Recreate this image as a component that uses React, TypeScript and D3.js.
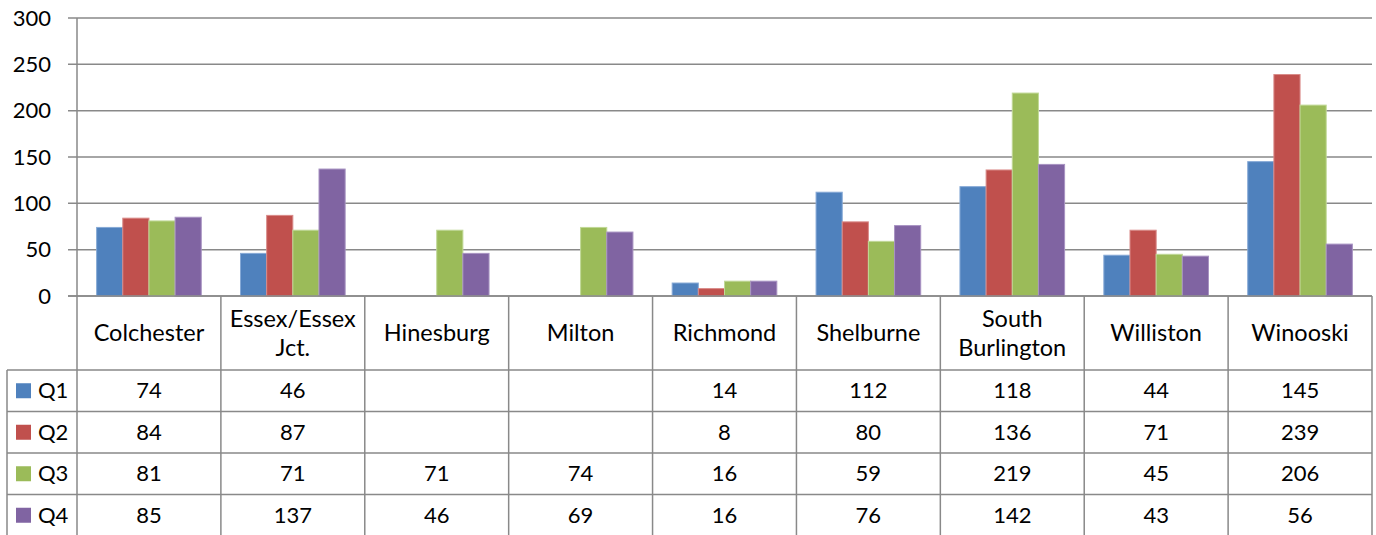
import React from "react";
import * as d3 from "d3";

const categories = ["Colchester", "Essex/Essex Jct.", "Hinesburg", "Milton", "Richmond", "Shelburne", "South Burlington", "Williston", "Winooski"];
const categoryLines = [["Colchester"], ["Essex/Essex", "Jct."], ["Hinesburg"], ["Milton"], ["Richmond"], ["Shelburne"], ["South", "Burlington"], ["Williston"], ["Winooski"]];
const seriesNames = ["Q1", "Q2", "Q3", "Q4"];
const q1: (number | null)[] = [74, 46, null, null, 14, 112, 118, 44, 145];
const q2: (number | null)[] = [84, 87, null, null, 8, 80, 136, 71, 239];
const q3: (number | null)[] = [81, 71, 71, 74, 16, 59, 219, 45, 206];
const q4: (number | null)[] = [85, 137, 46, 69, 16, 76, 142, 43, 56];
const seriesValues = [q1, q2, q3, q4];
const colors = ["#4F81BD", "#C0504D", "#9BBB59", "#8064A2"];
const strokes = ["#86a9d6", "#d98b89", "#c0d896", "#a893c2"];
const yTicks = [0, 50, 100, 150, 200, 250, 300];

const W = 1376;
const H = 535;
const plotLeft = 77;
const plotRight = 1372;
const plotTop = 18;
const plotBottom = 296;
const tableLeft = 7;
const catRowBottom = 370;
const rowH = 41.5;
const FONT = "Lato, 'Liberation Sans', sans-serif";
const grid = "#898989";

export default function App() {
  const x = d3.scaleBand<string>().domain(categories).range([plotLeft, plotRight]).paddingInner(0).paddingOuter(0);
  const xs = d3.scaleBand<string>().domain(seriesNames).range([0, x.bandwidth()]).paddingInner(0).paddingOuter(0.75);
  const y = d3.scaleLinear().domain([0, 300]).range([plotBottom, plotTop]);
  const fs = 22;
  const fsCat = 23.5;

  return (
    <svg width={W} height={H} style={{ position: "absolute", left: 0, top: 0, background: "#fff" }} fontFamily={FONT}>
      {yTicks.map((t) => (
        <g key={t}>
          <line x1={68} x2={plotRight} y1={y(t)} y2={y(t)} stroke={grid} strokeWidth={1.5} />
          <text x={51} y={y(t)} dy="0.35em" textAnchor="end" fontSize={fs} fill="#000">{t}</text>
        </g>
      ))}
      {seriesValues.map((vals, si) =>
        vals.map((v, ci) =>
          v == null ? null : (
            <rect
              key={`${si}-${ci}`}
              x={(x(categories[ci]) as number) + (xs(seriesNames[si]) as number)}
              y={y(v)}
              width={xs.bandwidth()}
              height={plotBottom - y(v)}
              fill={colors[si]}
              stroke={strokes[si]}
              strokeWidth={1}
            />
          )
        )
      )}
      <line x1={plotLeft} x2={plotLeft} y1={plotTop} y2={H} stroke={grid} strokeWidth={1.5} />
      <line x1={68} x2={plotRight} y1={plotBottom} y2={plotBottom} stroke={grid} strokeWidth={1.5} />
      {categories.map((c) => (
        <line key={c} x1={(x(c) as number) + x.bandwidth()} x2={(x(c) as number) + x.bandwidth()} y1={plotBottom} y2={H} stroke={grid} strokeWidth={1.5} />
      ))}
      {[0, 1, 2, 3].map((r) => (
        <line key={r} x1={tableLeft} x2={plotRight} y1={catRowBottom + r * rowH} y2={catRowBottom + r * rowH} stroke={grid} strokeWidth={1.5} />
      ))}
      <line x1={tableLeft} x2={tableLeft} y1={catRowBottom} y2={H} stroke={grid} strokeWidth={1.5} />
      {categoryLines.map((lines, i) => {
        const cx = (x(categories[i]) as number) + x.bandwidth() / 2;
        const cy = (plotBottom + catRowBottom) / 2;
        const lh = 29;
        return (
          <text key={i} x={cx} textAnchor="middle" fontSize={fsCat} fill="#000">
            {lines.map((l, li) => (
              <tspan key={li} x={cx} y={cy + (li - (lines.length - 1) / 2) * lh} dy="0.35em">{l}</tspan>
            ))}
          </text>
        );
      })}
      {seriesNames.map((s, si) => {
        const cy = catRowBottom + si * rowH + rowH / 2;
        return (
          <g key={s}>
            <rect x={16} y={cy - 7.5} width={15} height={15} fill={colors[si]} />
            <text x={38} y={cy} dy="0.35em" fontSize={fs} fill="#000">{s}</text>
            {seriesValues[si].map((v, ci) =>
              v == null ? null : (
                <text key={ci} x={(x(categories[ci]) as number) + x.bandwidth() / 2} y={cy} dy="0.35em" textAnchor="middle" fontSize={fs} fill="#000">{v}</text>
              )
            )}
          </g>
        );
      })}
    </svg>
  );
}
